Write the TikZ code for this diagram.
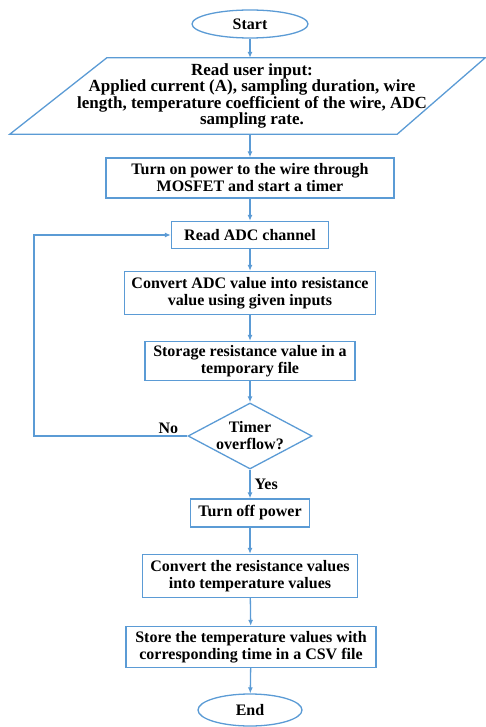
\documentclass[tikz,border=0pt]{standalone}
\usepackage{fontspec}
\setmainfont{Liberation Serif}
\usetikzlibrary{shapes.geometric}
\usetikzlibrary{arrows.meta}
\definecolor{flowblue}{HTML}{5B9BD5}
\tikzset{
	txt/.style={inner sep=0pt, align=center, font=\bfseries\fontsize{16}{17}\selectfont},
	base/.style={txt, draw=flowblue, line width=1.3pt},
	term/.style={base, ellipse},
	procbox/.style={base, rectangle},
	decide/.style={base, diamond, aspect=1.9},
	flow/.style={draw=flowblue, line width=1.3pt, -{Latex[length=6pt,width=5pt]}}
}

\begin{document}
\begin{tikzpicture}[x=1pt,y=-1pt]
	\useasboundingbox (0,0) rectangle (485,727);
	\node[term, minimum width=116pt, minimum height=28pt] (start) at (250,24) {Start};
	\node[txt, font=\bfseries\fontsize{17}{16.5}\selectfont, minimum width=466pt, minimum height=76pt] (input) at (252,96) {Read user input:\\Applied current (A), sampling duration, wire\\length, temperature coefficient of the wire, ADC\\sampling rate.};
	\draw[flowblue, line width=1.3pt] ([xshift=88pt]input.north west) -- (input.north east) -- ([xshift=-88pt]input.south east) -- ([xshift=-9pt]input.south west) -- cycle;
	\node[procbox, minimum width=288pt, minimum height=40pt] (power) at (250,178) {Turn on power to the wire through\\MOSFET and start a timer};
	\node[procbox, minimum width=157pt, minimum height=27pt] (readadc) at (250,235) {Read ADC channel};
	\node[procbox, minimum width=251pt, minimum height=43pt] (convert) at (250,293) {Convert ADC value into resistance\\value using given inputs};
	\node[procbox, minimum width=210pt, minimum height=39pt] (store) at (250,361) {Storage resistance value in a\\temporary file};
	\node[decide, minimum width=124pt, minimum height=66pt] (timer) at (250,436) {Timer\\overflow?};
	\node[procbox, minimum width=119pt, minimum height=28pt] (off) at (250,513) {Turn off power};
	\node[procbox, minimum width=215pt, minimum height=43pt] (totemp) at (250,576) {Convert the resistance values\\into temperature values};
	\node[procbox, minimum width=250pt, minimum height=41pt] (save) at (251,647) {Store the temperature values with\\corresponding time in a CSV file};
	\node[term, minimum width=104pt, minimum height=32pt] (stop) at (250,710) {End};
	\coordinate (loop) at (34,436);
\par
	\draw[flow] (start) -- (start |- input.north);
	\draw[flow] (start |- input.south) -- (power);
	\draw[flow] (power) -- (readadc);
	\draw[flow] (readadc) -- (convert);
	\draw[flow] (convert) -- (store);
	\draw[flow] (store) -- (timer);
	\draw[flow] (timer.west) -- (loop) |- (readadc.west);
	\node[txt, anchor=south east] (no) at ([xshift=-9pt,yshift=2pt]timer.west) {No};
	\draw[flow] (timer) -- node[txt, right, xshift=4pt] (yes) {Yes} (off);
	\draw[flow] (off) -- (totemp);
	\draw[flow] (totemp) -- (save);
	\draw[flow] (save) -- (stop);
\end{tikzpicture}
\end{document}
